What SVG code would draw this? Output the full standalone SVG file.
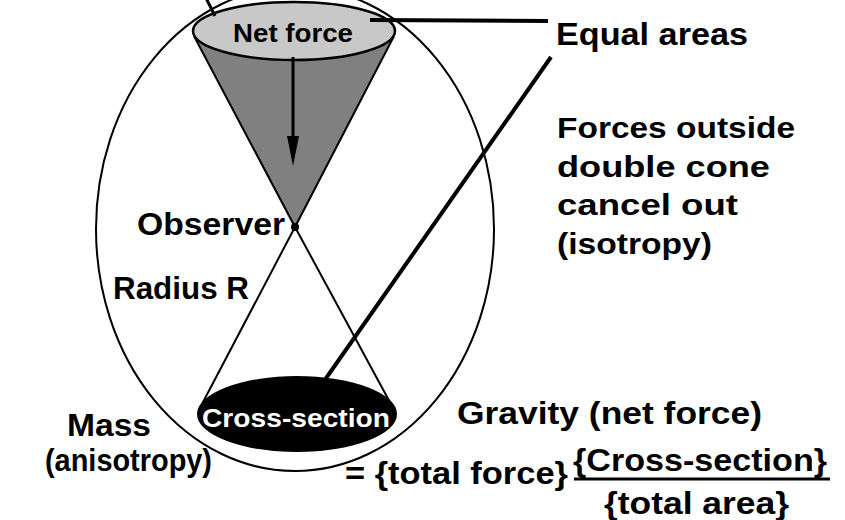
<svg xmlns="http://www.w3.org/2000/svg" width="845" height="520" viewBox="0 0 845 520">
<style>
.t{font-family:"Liberation Sans",Arial,sans-serif;font-weight:bold;fill:#000}
.w{fill:#fff}
.ln{stroke:#000;fill:none}
</style>
<rect width="845" height="520" fill="#fff"/>
<g id="sphere">
<ellipse cx="295" cy="229" rx="199" ry="242" fill="none" stroke="#000" stroke-width="2"/>
</g>
<g id="cone">
<path d="M195,38 L295,227 L393,38 Z" fill="#808080" stroke="#000" stroke-width="2"/>
<line class="ln" x1="295" y1="227" x2="202" y2="404" stroke-width="2"/>
<line class="ln" x1="295" y1="227" x2="392" y2="406" stroke-width="2"/>
</g>
<g id="net-force">
<ellipse cx="294" cy="31" rx="101" ry="29" fill="#c8c8c8" stroke="#000" stroke-width="2.5"/>
<text class="t" x="233" y="42" font-size="26" textLength="120" lengthAdjust="spacingAndGlyphs">Net force</text>
</g>
<g id="cross-section">
<ellipse cx="297" cy="414" rx="100" ry="38" fill="#000"/>
<text class="t w" x="202" y="427" font-size="26" textLength="188" lengthAdjust="spacingAndGlyphs">Cross-section</text>
</g>
<g id="observer">
<circle cx="295" cy="227" r="4" fill="#000"/>
<text class="t" x="137" y="235" font-size="31" textLength="148" lengthAdjust="spacingAndGlyphs">Observer</text>
</g>
<g id="connectors">
<line class="ln" x1="293" y1="57" x2="293" y2="138" stroke-width="3"/>
<path d="M287,136 L299,136 L293,166 Z" fill="#000"/>
<line class="ln" x1="205" y1="-4" x2="215" y2="16" stroke-width="3"/>
<line class="ln" x1="370" y1="20" x2="548" y2="21" stroke-width="4"/>
<line class="ln" x1="551" y1="57" x2="322" y2="384" stroke-width="4"/>
</g>
<g id="labels">
<text class="t" x="556" y="45" font-size="32" textLength="192" lengthAdjust="spacingAndGlyphs">Equal areas</text>
<text class="t" x="557" y="138" font-size="30" textLength="238" lengthAdjust="spacingAndGlyphs">Forces outside</text>
<text class="t" x="557" y="177" font-size="30" textLength="213" lengthAdjust="spacingAndGlyphs">double cone</text>
<text class="t" x="557" y="215" font-size="30" textLength="181" lengthAdjust="spacingAndGlyphs">cancel out</text>
<text class="t" x="557" y="254" font-size="30" textLength="155" lengthAdjust="spacingAndGlyphs">(isotropy)</text>
<text class="t" x="113" y="299" font-size="31" textLength="136" lengthAdjust="spacingAndGlyphs">Radius R</text>
<text class="t" x="67" y="436" font-size="32" textLength="84" lengthAdjust="spacingAndGlyphs">Mass</text>
<text class="t" x="45" y="471" font-size="31" textLength="167" lengthAdjust="spacingAndGlyphs">(anisotropy)</text>
</g>
<g id="formula">
<text class="t" x="457" y="424" font-size="31" textLength="305" lengthAdjust="spacingAndGlyphs">Gravity (net force)</text>
<text class="t" x="345" y="484" font-size="31" textLength="223" lengthAdjust="spacingAndGlyphs">= {total force}</text>
<text class="t" x="573" y="471" font-size="31" textLength="254" lengthAdjust="spacingAndGlyphs">{Cross-section}</text>
<line class="ln" x1="574" y1="479" x2="830" y2="479" stroke-width="3"/>
<text class="t" x="604" y="514" font-size="31" textLength="185" lengthAdjust="spacingAndGlyphs">{total area}</text>
</g>
</svg>
